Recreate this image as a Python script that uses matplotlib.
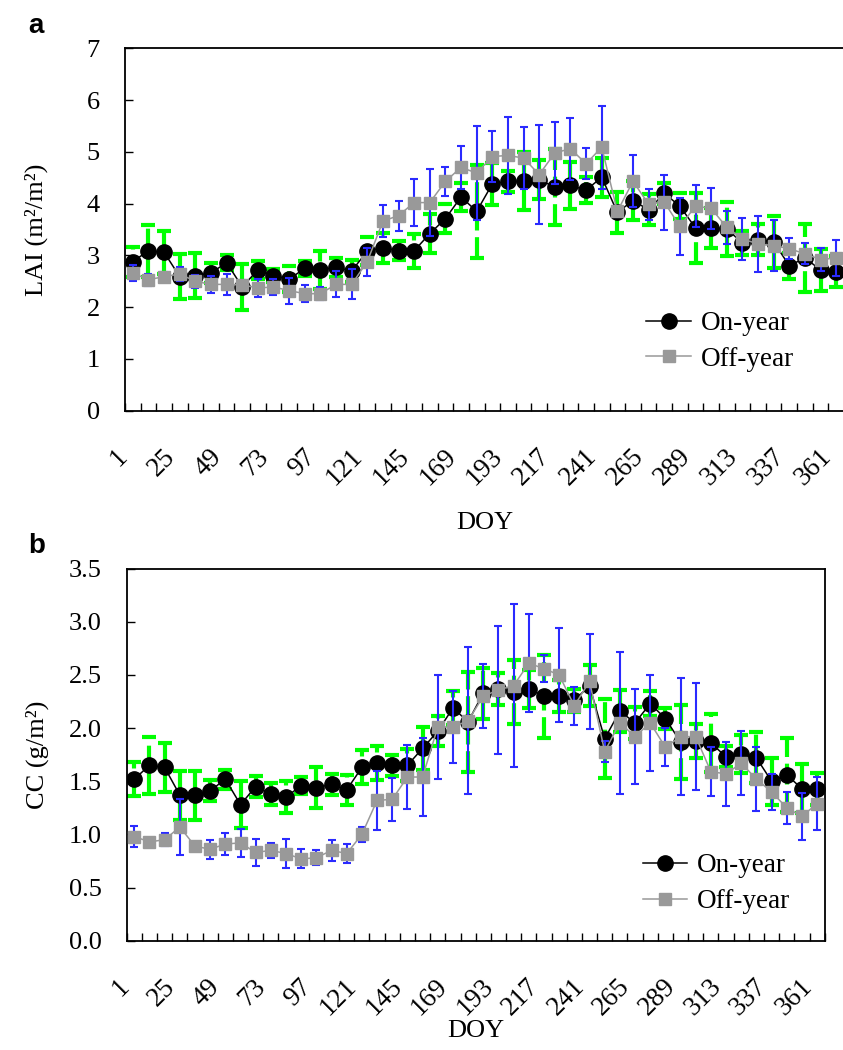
import numpy as np
from matplotlib import pyplot as plt

# LAI und CC im On-/Off-Jahr (8-Tages-Mittel, DOY 1..361)

plt.rcParams['font.family'] = ['Liberation Serif', 'DejaVu Serif']

doy = list(range(1, 362, 8))
tick_doy = doy[::3]

on_lai = [2.88, 3.09, 3.06, 2.59, 2.61, 2.66, 2.86, 2.39, 2.72, 2.61,
          2.54, 2.75, 2.72, 2.77, 2.70, 3.08, 3.15, 3.09, 3.09, 3.42,
          3.71, 4.13, 3.85, 4.38, 4.43, 4.43, 4.46, 4.32, 4.35, 4.26,
          4.51, 3.83, 4.06, 3.88, 4.20, 3.95, 3.53, 3.53, 3.51, 3.24,
          3.30, 3.26, 2.80, 2.95, 2.72, 2.68]
on_lai_err = [0.29, 0.50, 0.42, 0.43, 0.43, 0.20, 0.15, 0.45, 0.18, 0.12,
              0.25, 0.15, 0.36, 0.18, 0.22, 0.27, 0.29, 0.18, 0.33, 0.38,
              0.28, 0.27, 0.90, 0.40, 0.20, 0.56, 0.38, 0.74, 0.45, 0.25,
              0.38, 0.40, 0.37, 0.30, 0.20, 0.25, 0.67, 0.38, 0.53, 0.23,
              0.30, 0.50, 0.25, 0.66, 0.40, 0.30]
off_lai = [2.66, 2.53, 2.59, 2.64, 2.50, 2.44, 2.44, 2.43, 2.37, 2.39,
           2.32, 2.26, 2.26, 2.44, 2.44, 2.88, 3.66, 3.77, 4.02, 4.02,
           4.43, 4.70, 4.59, 4.91, 4.93, 4.88, 4.56, 4.98, 5.06, 4.77,
           5.09, 3.85, 4.43, 3.99, 4.03, 3.56, 3.95, 3.91, 3.54, 3.32,
           3.22, 3.19, 3.13, 3.03, 2.92, 2.95]
off_lai_err = [0.15, 0.12, 0.08, 0.13, 0.13, 0.17, 0.20, 0.10, 0.18, 0.15,
               0.25, 0.16, 0.13, 0.25, 0.29, 0.27, 0.31, 0.29, 0.46, 0.65,
               0.28, 0.41, 0.90, 0.50, 0.75, 0.60, 0.95, 0.60, 0.60, 0.30,
               0.80, 0.10, 0.50, 0.30, 0.53, 0.55, 0.40, 0.40, 0.32, 0.40,
               0.55, 0.50, 0.20, 0.20, 0.22, 0.35]

on_cc = [1.52, 1.65, 1.63, 1.37, 1.37, 1.41, 1.52, 1.28, 1.45, 1.38,
         1.35, 1.46, 1.44, 1.47, 1.42, 1.63, 1.67, 1.65, 1.65, 1.81,
         1.97, 2.19, 2.06, 2.33, 2.37, 2.34, 2.37, 2.30, 2.30, 2.26,
         2.40, 1.90, 2.16, 2.05, 2.23, 2.09, 1.87, 1.88, 1.86, 1.73,
         1.76, 1.72, 1.50, 1.56, 1.43, 1.43]
on_cc_err = [0.16, 0.27, 0.23, 0.23, 0.23, 0.10, 0.09, 0.22, 0.10, 0.10,
             0.15, 0.08, 0.19, 0.10, 0.14, 0.16, 0.16, 0.10, 0.15, 0.20,
             0.14, 0.16, 0.47, 0.24, 0.15, 0.30, 0.18, 0.39, 0.15, 0.11,
             0.19, 0.37, 0.20, 0.15, 0.12, 0.10, 0.35, 0.16, 0.27, 0.10,
             0.18, 0.24, 0.22, 0.35, 0.23, 0.15]
off_cc = [0.98, 0.93, 0.95, 1.07, 0.89, 0.86, 0.91, 0.92, 0.83, 0.85,
          0.82, 0.77, 0.78, 0.85, 0.82, 1.00, 1.32, 1.33, 1.54, 1.54,
          2.01, 2.01, 2.07, 2.30, 2.36, 2.40, 2.61, 2.56, 2.50, 2.21,
          2.44, 1.78, 2.05, 1.92, 2.05, 1.82, 1.92, 1.92, 1.59, 1.57,
          1.67, 1.52, 1.40, 1.25, 1.17, 1.29]
off_cc_err = [0.10, 0.03, 0.06, 0.26, 0.02, 0.09, 0.10, 0.13, 0.13, 0.07,
              0.14, 0.09, 0.07, 0.10, 0.09, 0.07, 0.28, 0.20, 0.30, 0.37,
              0.49, 0.34, 0.69, 0.30, 0.60, 0.77, 0.46, 0.13, 0.44, 0.18,
              0.45, 0.10, 0.67, 0.45, 0.45, 0.18, 0.55, 0.50, 0.23, 0.30,
              0.30, 0.30, 0.17, 0.15, 0.22, 0.25]

gruen = "#00ff00"
blau = "#2a2aff"
grau = "#999999"
W, H = 843, 1050


def panel(rect, on, on_err, off, off_err, ymax, ystep, yfmt, ylabel,
          leg_xy, xlab_y, ylab_x):
    ax = fig.add_axes(rect)
    # Fehlerbalken: gruen = On-year, blau = Off-year
    eb = ax.errorbar(doy, on, yerr=on_err, fmt='none', ecolor=gruen,
                     elinewidth=3, capsize=5, capthick=3, zorder=2)
    eb[2][0].set_linestyle((0, (5, 1.6)))
    ax.plot(doy, on, '-o', color='k', lw=1.1, ms=11, label="On-year",
            zorder=3)
    ax.errorbar(doy, off, yerr=off_err, fmt='none', ecolor=blau,
                elinewidth=1.5, capsize=3, capthick=1.5, zorder=4)
    ax.plot(doy, off, '-s', color=grau, lw=1.1, ms=8.8, mec=grau,
            label="Off-year", zorder=5)

    ax.set_xlim(doy[0] - 4, doy[-1] + 4)
    ax.set_ylim(0, ymax)
    ax.set_yticks(np.arange(0, ymax + 0.001, ystep))
    ax.set_yticklabels([yfmt % v for v in np.arange(0, ymax + 0.001, ystep)])
    ax.set_xticks(tick_doy)
    ax.set_xticklabels([str(d) for d in tick_doy], rotation=45, ha='right')
    ax.set_xticks([d - 4 for d in doy] + [doy[-1] + 4], minor=True)
    ax.tick_params(axis='x', which='major', length=0, pad=24, labelsize=19.5)
    ax.tick_params(axis='x', which='minor', direction='in', length=5.5,
                   width=1)
    ax.tick_params(axis='y', direction='in', length=6, width=1, pad=18,
                   labelsize=19)
    for s in ax.spines.values():
        s.set_linewidth(1.3)

    ax.set_ylabel(ylabel, fontsize=19)
    ax.yaxis.set_label_coords(ylab_x, 0.5)
    ax.set_xlabel("DOY", fontsize=19)
    ax.xaxis.set_label_coords(0.5, xlab_y)
    ax.legend(loc='upper left', bbox_to_anchor=leg_xy, frameon=False,
              fontsize=19.5, handlelength=1.65, handletextpad=0.35,
              labelspacing=0.4, borderpad=0, borderaxespad=0)
    return ax


fig = plt.figure(figsize=(W / 100, H / 100), dpi=100)

# Panel a (rechter Rand liegt ausserhalb des Bildes)
panel([125 / W, 1 - 410.7 / H, 719 / W, 362.4 / H],
      on_lai, on_lai_err, off_lai, off_lai_err, 7, 1, "%d",
      "LAI (m²/m²)", (0.725, 0.275), -0.28, -0.107)

# Panel b
panel([126.7 / W, 1 - 940.7 / H, 698 / W, 372 / H],
      on_cc, on_cc_err, off_cc, off_cc_err, 3.5, 0.5, "%.1f",
      "CC (g/m²)", (0.739, 0.235), -0.212, -0.112)

fig.text(28 / W, 1 - 33 / H, "a", fontsize=20, fontweight='bold',
         family='Liberation Sans')
fig.text(28 / W, 1 - 553 / H, "b", fontsize=20, fontweight='bold',
         family='Liberation Sans')

plt.savefig("out.png", dpi=100)
